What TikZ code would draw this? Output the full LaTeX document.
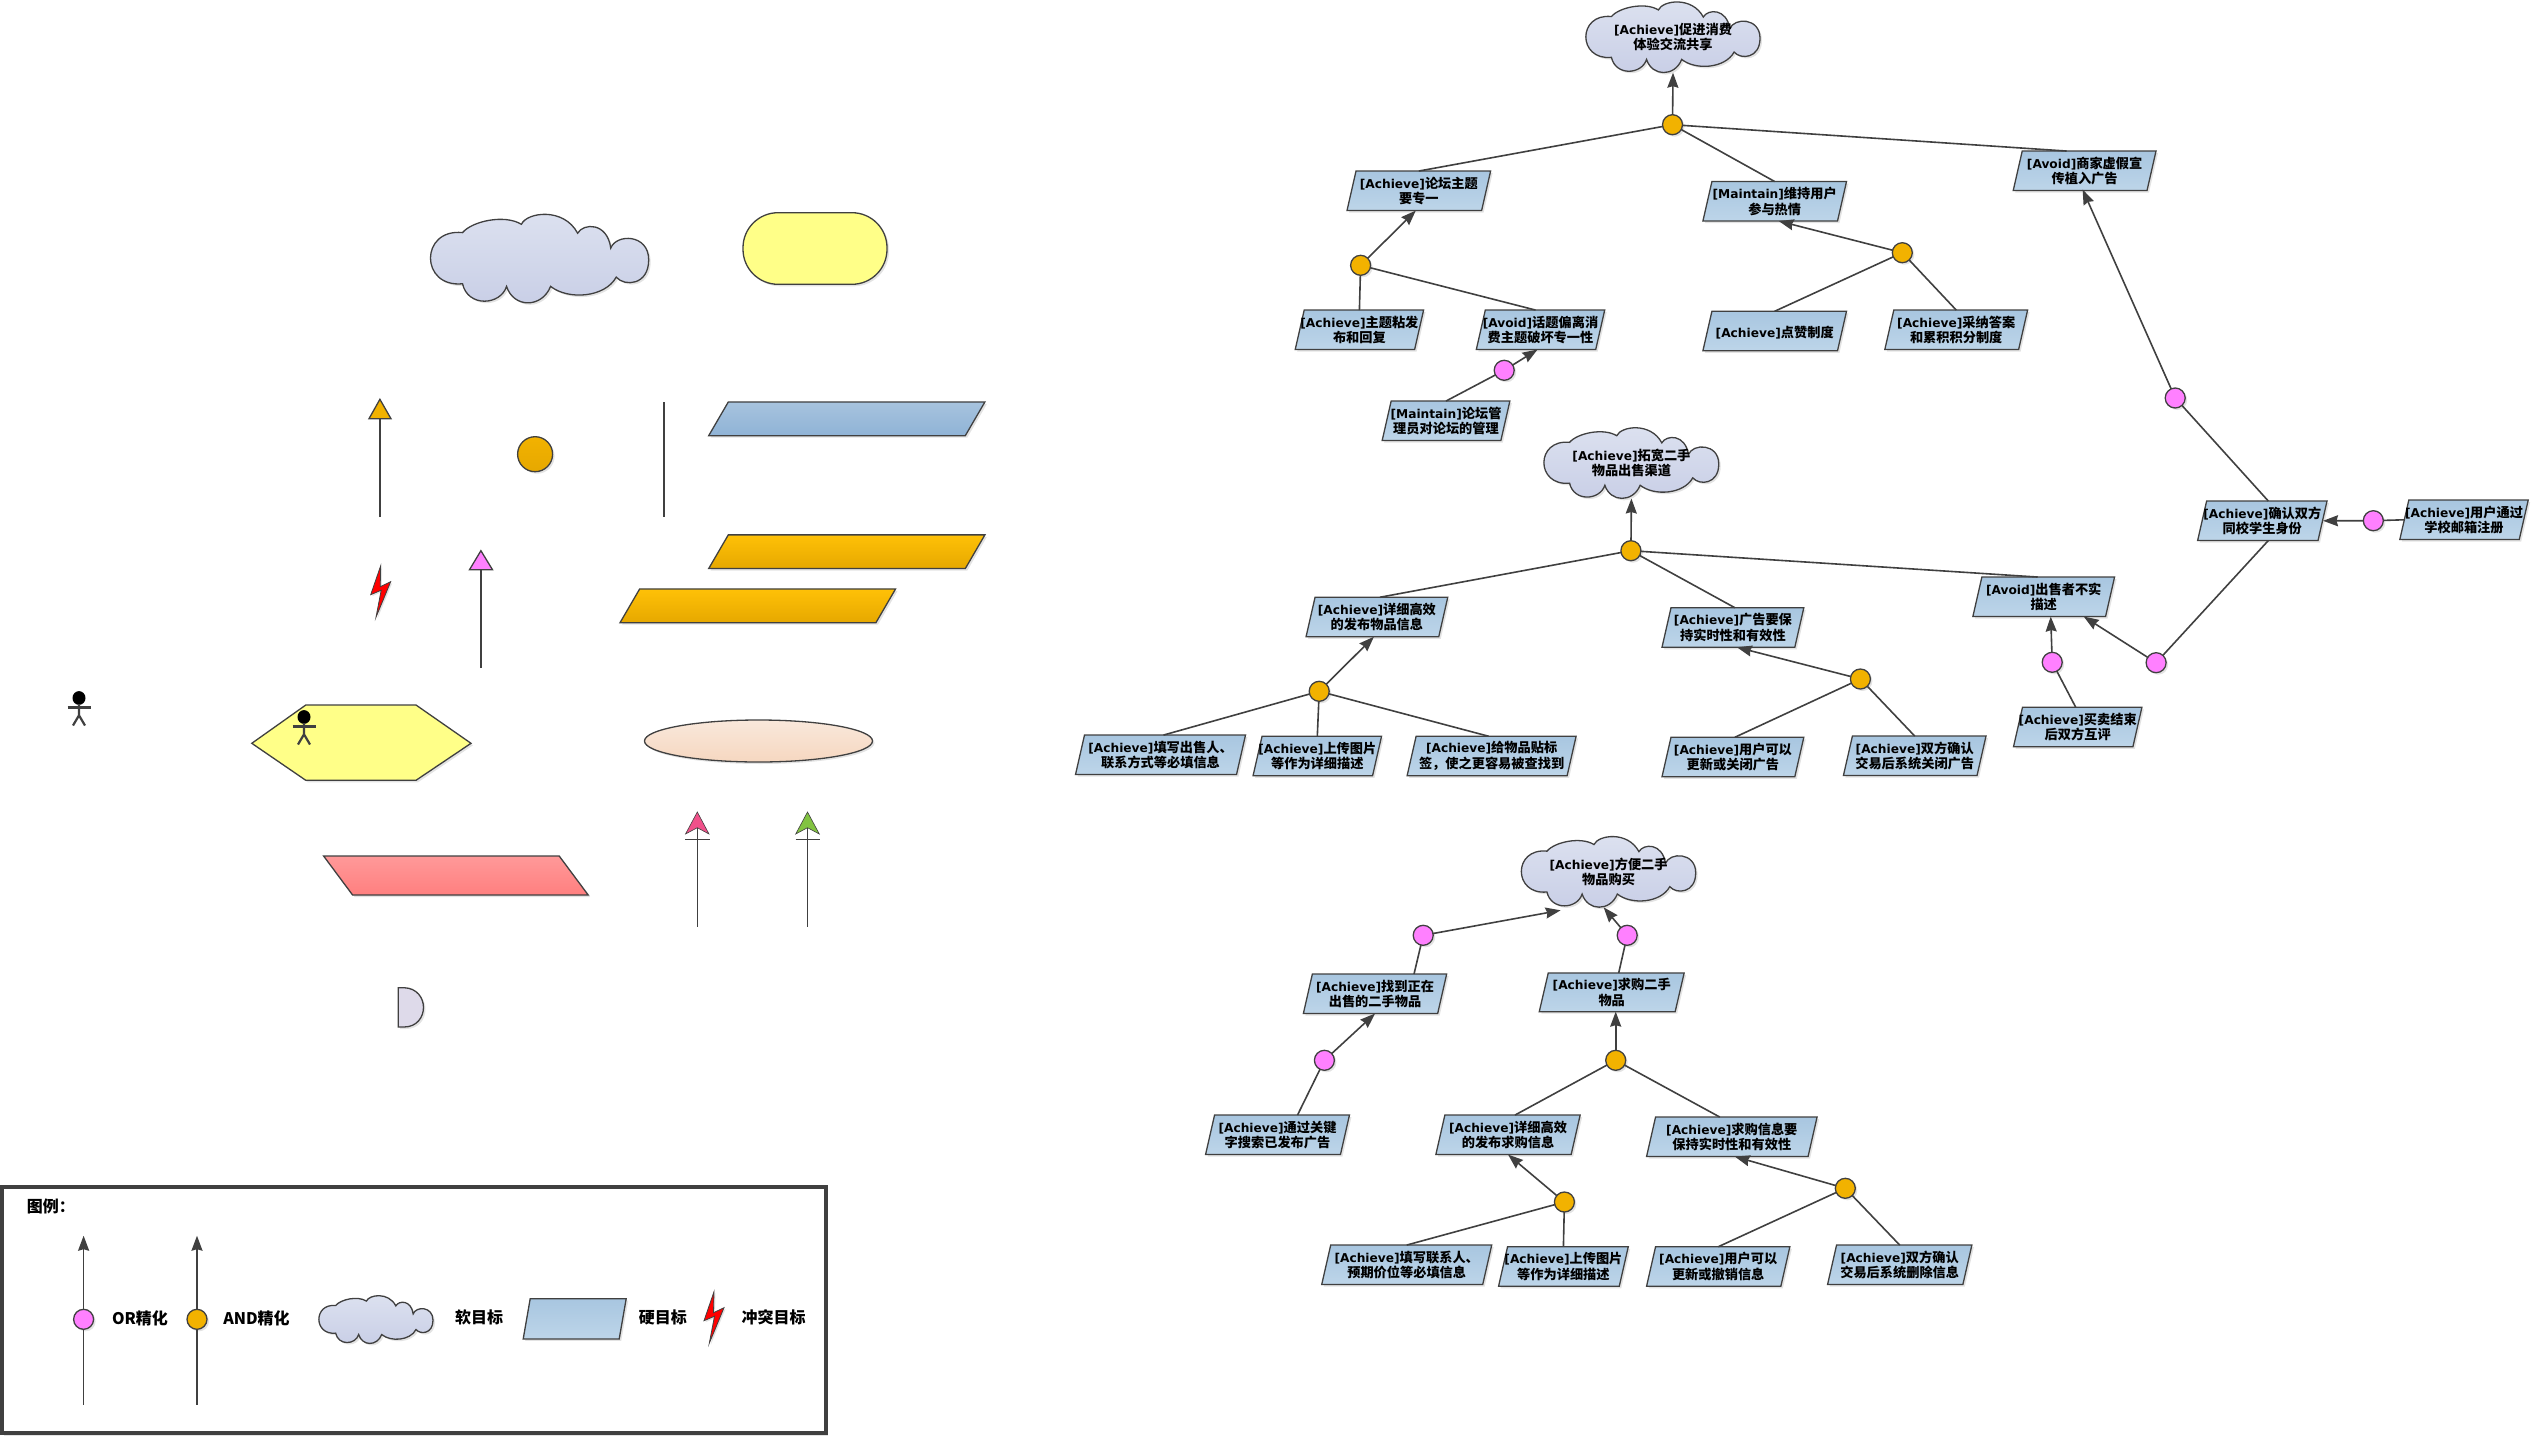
\documentclass[tikz,border=0pt]{standalone}
\usepackage{fontspec}
\setmainfont{Noto Sans CJK SC}
\newfontfamily\latf{DejaVu Sans}
\usetikzlibrary{arrows.meta,shadows,shapes.geometric}
\newcommand\glat[1]{{\latf\bfseries\fontsize{12.2}{15.5}\selectfont #1}}
\newcommand\ach{\glat{[Achieve]}}
\newcommand\mnt{\glat{[Maintain]}}
\newcommand\avd{\glat{[Avoid]}}
\definecolor{linec}{HTML}{404040}
\definecolor{blueT}{HTML}{A8C6E0}
\definecolor{blueB}{HTML}{BDD5E9}
\definecolor{palblueT}{HTML}{A7C3DE}
\definecolor{palblueB}{HTML}{8FB3D6}
\definecolor{cloudT}{HTML}{DDE2F0}
\definecolor{cloudB}{HTML}{C8CEE6}
\definecolor{goldc}{HTML}{F2B200}
\definecolor{goldT}{HTML}{FFC107}
\definecolor{goldB}{HTML}{E6A800}
\definecolor{pinkc}{HTML}{FF80FF}
\definecolor{yellowc}{HTML}{FFFF88}
\definecolor{peachT}{HTML}{F9E8DB}
\definecolor{peachB}{HTML}{F6D7C0}
\definecolor{redT}{HTML}{FF9999}
\definecolor{redB}{HTML}{FF7F7F}
\makeatletter
\newcommand\clsetup{%
  \southwest\edef\cltmpa{\the\pgf@x}\edef\cltmpb{\the\pgf@y}%
  \northeast\edef\cltmpc{\the\pgf@x}\edef\cltmpd{\the\pgf@y}%
  \pgfmathsetmacro\clx{\cltmpa}\pgfmathsetmacro\clyb{\cltmpb}%
  \pgfmathsetmacro\clxb{\cltmpc}\pgfmathsetmacro\cly{\cltmpd}%
  \pgfmathsetmacro\clw{\clxb-\clx}\pgfmathsetmacro\clh{\cly-\clyb}}
\newcommand\clp[2]{\pgfpoint{\clx+#1*\clw}{\cly-#2*\clh}}
\newcommand\clc[6]{\pgfpathcurveto{\clp{#1}{#2}}{\clp{#3}{#4}}{\clp{#5}{#6}}}
\newcommand\cloudpathdef{\clsetup
  \pgfpathmoveto{\clp{.146}{.209}}
  \clc{.19}{.08}{.34}{.0}{.416}{.116}
  \clc{.44}{-.02}{.61}{-.08}{.674}{.216}
  \clc{.70}{.10}{.81}{.09}{.826}{.384}
  \clc{.85}{.22}{1.0}{.22}{1.0}{.515}
  \clc{1.0}{.80}{.89}{.82}{.851}{.709}
  \clc{.80}{.94}{.63}{.97}{.55}{.813}
  \clc{.51}{1.06}{.38}{1.06}{.348}{.813}
  \clc{.32}{1.03}{.17}{1.05}{.146}{.784}
  \clc{-.05}{.83}{-.05}{.16}{.146}{.209}
  \pgfpathclose}
\newcommand\plgpathdef{\clsetup
  \pgfmathsetmacro\plga{max(\plgslant,0)}\pgfmathsetmacro\plgb{min(\plgslant,0)}%
  \pgfpathmoveto{\pgfpoint{\clx+\plga}{\cly}}
  \pgfpathlineto{\pgfpoint{\clxb+\plgb}{\cly}}
  \pgfpathlineto{\pgfpoint{\clxb-\plga}{\clyb}}
  \pgfpathlineto{\pgfpoint{\clx-\plgb}{\clyb}}
  \pgfpathclose}
\pgfdeclareshape{softcloud}{
  \inheritsavedanchors[from=rectangle]
  \inheritanchorborder[from=rectangle]
  \inheritanchor[from=rectangle]{center}
  \inheritanchor[from=rectangle]{north}
  \inheritanchor[from=rectangle]{south}
  \inheritanchor[from=rectangle]{east}
  \inheritanchor[from=rectangle]{west}
  \inheritanchor[from=rectangle]{text}
  \backgroundpath{\cloudpathdef}
}
\pgfdeclareshape{plgram}{
  \inheritsavedanchors[from=rectangle]
  \inheritanchorborder[from=rectangle]
  \inheritanchor[from=rectangle]{center}
  \inheritanchor[from=rectangle]{north}
  \inheritanchor[from=rectangle]{south}
  \inheritanchor[from=rectangle]{east}
  \inheritanchor[from=rectangle]{west}
  \inheritanchor[from=rectangle]{text}
  \backgroundpath{\plgpathdef}
}
\makeatother
\tikzset{
  plg slant/.store in=\plgslant, plg slant=9,
  softshadow/.style={drop shadow={shadow xshift=2pt,shadow yshift=-2pt,fill=black!18,opacity=.6}},
  outl/.style={draw=linec,line width=1.3pt},
  txt/.style={font=\bfseries\fontsize{13.2}{15.5}\selectfont,align=center,inner sep=0pt,outer sep=0pt,text=black,execute at begin node={\rule{0pt}{14.5pt}}},
  goal/.style={shape=plgram,outl,txt,softshadow,top color=blueT,bottom color=blueB,minimum height=39.5pt},
  palbox/.style={shape=plgram,outl,inner sep=0pt,outer sep=0pt,softshadow,minimum height=33.7pt,plg slant=19.6},
  softgoal/.style={shape=softcloud,outl,txt,softshadow,top color=cloudT,bottom color=cloudB,minimum width=174pt,minimum height=71pt},
  dot/.style={circle,outl,inner sep=0pt,outer sep=0pt,minimum size=20pt,softshadow},
  anddot/.style={dot,fill=goldc},
  ordot/.style={dot,fill=pinkc},
  conn/.style={draw=linec,line width=1.6pt},
  arr/.style={conn,-{Stealth[length=15pt,width=11pt,inset=1.5pt]}},
  thin line/.style={draw=linec,line width=1.2pt},
  legendtxt/.style={font=\bfseries\fontsize{16}{18}\selectfont,inner sep=0pt,outer sep=0pt,text=black},
  bolt/.pic={\path[draw=linec,line width=.8pt,fill=red,drop shadow={shadow xshift=1.5pt,shadow yshift=-1.5pt,fill=black!18,opacity=.6}]
     (10,0) -- (0,29) -- (10.5,24.5) -- (5.3,51.5) -- (20,16) -- (9.5,21) -- cycle;},
  actor/.pic={\fill[black] (0,7) ellipse (6.5 and 6.9);
     \draw[linec,line width=2.2pt] (0,13) -- (0,24.3) (0,24.3) -- (-6,34.5) (0,24.3) -- (6,34.5);
     \draw[linec,line width=2.8pt] (-11.5,16.5) -- (11.5,16.5);},
}
\begin{document}
\begin{tikzpicture}[x=1pt,y=-1pt]
\useasboundingbox (0,0) rectangle (2531,1437);
% ---------- palette ----------
\node[softgoal,minimum width=218pt,minimum height=89pt] (palcloud) at (539.7,258.5) {};
\node[outl,fill=yellowc,rounded corners=35pt,minimum width=144pt,minimum height=71.6pt,inner sep=0pt,outer sep=0pt,softshadow] (palobst) at (815,248.5) {};
\node[anddot,minimum size=35pt,top color=goldc,bottom color=goldB] (palgold) at (535.1,454.2) {};
\node[palbox,minimum width=276.2pt,top color=palblueT,bottom color=palblueB] (palblue) at (846.8,418.8) {};
\node[palbox,minimum width=276.2pt,top color=goldT,bottom color=goldB] (palor1) at (846.8,551.7) {};
\node[palbox,minimum width=275.5pt,top color=goldT,bottom color=goldB] (palor2) at (757.8,605.8) {};
\node[palbox,plg slant=-29,minimum width=264.6pt,minimum height=39pt,top color=redT,bottom color=redB] (palred) at (455.9,875.5) {};
\node[ellipse,outl,minimum width=228pt,minimum height=42pt,inner sep=0pt,outer sep=0pt,top color=peachT,bottom color=peachB,softshadow] (palell) at (758.5,741) {};
% plain arrows of the palette
\draw[thin line] (379.9,517) -- (379.9,418.7);
\draw[outl,fill=goldc] (369,418.7) -- (379.9,399.3) -- (391,418.7) -- cycle;
\draw[thin line] (664,402) -- (664,517);
\draw[thin line] (480.9,668) -- (480.9,569.7);
\draw[outl,fill=pinkc] (469.5,569.7) -- (480.9,550.7) -- (492.5,569.7) -- cycle;
\draw[thin line] (697.3,926.7) -- (697.3,827.7);
\draw[thin line] (685,839.3) -- (709.6,839.3);
\draw[draw=linec,line width=.6pt,fill={rgb,255:red,240;green,80;blue,138}] (685.5,834) -- (697.3,812) -- (709,834) -- (697.3,827.7) -- cycle;
\draw[thin line] (807.5,926.7) -- (807.5,827.7);
\draw[thin line] (795.5,839.3) -- (819.8,839.3);
\draw[draw=linec,line width=.6pt,fill={rgb,255:red,130;green,195;blue,65}] (795.7,834) -- (807.5,812) -- (819.3,834) -- (807.5,827.7) -- cycle;
% hexagon, half disc
\draw[outl,fill=yellowc,softshadow] (251.8,743.3) -- (305.8,705) -- (416,705) -- (471,743.3) -- (416,780.3) -- (305.8,780.3) -- cycle;
\draw[outl,fill={rgb,255:red,222;green,218;blue,234},softshadow] (398.2,987.7) -- (404,987.7) .. controls (417,988) and (423.5,998) .. (423.5,1007.4) .. controls (423.5,1017) and (417,1027) .. (404,1027) -- (398.2,1027) -- cycle;
\pic at (79,691) {actor};
\pic at (304,710) {actor};
\pic at (370.7,565.7) {bolt};
% ---------- tree 1 ----------
\node[softgoal] (c1) at (1673,37.2) {\ach 促进消费\\体验交流共享};
\node[anddot] (n1) at (1672.5,124.7) {};
\node[goal,minimum width=143.6pt] (a1) at (1418.8,190.8) {\ach 论坛主题\\要专一};
\node[goal,minimum width=143.6pt] (a2) at (1774.7,201.3) {\mnt 维持用户\\参与热情};
\node[goal,minimum width=142.8pt] (a3) at (2084.6,170.8) {\avd 商家虚假宣\\传植入广告};
\node[anddot] (n2) at (1360.6,265.3) {};
\node[anddot] (n3) at (1902.3,252.7) {};
\node[goal,minimum width=128.4pt] (b1) at (1359.4,329.8) {\ach 主题粘发\\布和回复};
\node[goal,minimum width=128.4pt] (b2) at (1540.5,329.8) {\avd 话题偏离消\\费主题破坏专一性};
\node[goal,minimum width=143.6pt] (b3) at (1774.7,331) {\ach 点赞制度};
\node[goal,minimum width=142.8pt] (b4) at (1956.2,329.8) {\ach 采纳答案\\和累积积分制度};
\node[goal,minimum width=127.7pt] (b5) at (1446,420.8) {\mnt 论坛管\\理员对论坛的管理};
\node[ordot] (p1) at (1504.2,370.3) {};
\node[ordot] (p2) at (2175.2,398) {};
\draw[arr] (n1) -- (c1.south);
\draw[conn] (a1.north) -- (n1);
\draw[conn] (a2.north) -- (n1);
\draw[conn] ([xshift=-18pt]a3.north) -- (n1);
\draw[arr] (n2) -- ([xshift=-3pt]a1.south);
\draw[conn] (b1.north) -- (n2);
\draw[conn] ([xshift=-5pt]b2.north) -- (n2);
\draw[arr] (n3) -- ([xshift=4pt]a2.south);
\draw[conn] (b3.north) -- (n3);
\draw[conn] (b4.north) -- (n3);
\draw[conn] (b5.north) -- (p1);
\draw[arr] (p1) -- ([xshift=-3pt]b2.south);
\draw[arr] (p2) -- ([xshift=-2pt,yshift=1pt]a3.south);
% ---------- tree 2 ----------
\node[softgoal,minimum width=174.7pt] (c2) at (1631.4,463) {\ach 拓宽二手\\物品出售渠道};
\node[anddot] (n4) at (1630.9,550.7) {};
\node[goal,minimum width=141.7pt] (d1) at (1376.9,617) {\ach 详细高效\\的发布物品信息};
\node[goal,minimum width=141.8pt] (d2) at (1732.9,627.5) {\ach 广告要保\\持实时性和有效性};
\node[goal,minimum width=141.7pt] (d3) at (2043.7,596.8) {\avd 出售者不实\\描述};
\node[anddot] (n5) at (1319.2,691.3) {};
\node[anddot] (n6) at (1860.4,679) {};
\node[ordot] (p3) at (2052.2,662.3) {};
\node[ordot] (p4) at (2156.1,662.7) {};
\node[goal,minimum width=170pt] (e1) at (1160.5,754.8) {\ach 填写出售人、\\联系方式等必填信息};
\node[goal,minimum width=128.5pt] (e2) at (1317.3,756) {\ach 上传图片\\等作为详细描述};
\node[goal,minimum width=169pt] (e3) at (1491.6,756) {\ach 给物品贴标\\签，使之更容易被查找到};
\node[goal,minimum width=141.8pt] (e4) at (1732.9,757) {\ach 用户可以\\更新或关闭广告};
\node[goal,minimum width=142.6pt] (e5) at (1914.7,755.8) {\ach 双方确认\\交易后系统关闭广告};
\node[goal,minimum width=128.4pt] (e6) at (2077.7,727) {\ach 买卖结束\\后双方互评};
\node[goal,minimum width=129.4pt] (f1) at (2262.3,520.8) {\ach 确认双方\\同校学生身份};
\node[goal,minimum width=128.4pt] (f2) at (2464,519.8) {\ach 用户通过\\学校邮箱注册};
\node[ordot] (p5) at (2373.3,520.7) {};
\draw[arr] (n4) -- (c2.south);
\draw[conn] ([xshift=3pt]d1.north) -- (n4);
\draw[conn] ([xshift=2pt]d2.north) -- (n4);
\draw[conn] ([xshift=-6pt]d3.north) -- (n4);
\draw[arr] (n5) -- ([xshift=-3pt]d1.south);
\draw[conn] ([xshift=3pt]e1.north) -- (n5);
\draw[conn] (e2.north) -- (n5);
\draw[conn] ([xshift=-3pt]e3.north) -- (n5);
\draw[arr] (n6) -- ([xshift=4pt]d2.south);
\draw[conn] ([xshift=2pt]e4.north) -- (n6);
\draw[conn] (e5.north) -- (n6);
\draw[conn] ([xshift=-2pt]e6.north) -- (p3);
\draw[arr] (p3) -- ([xshift=7pt]d3.south);
\draw[arr] (p4) -- ([xshift=40pt]d3.south);
\draw[conn] (p4) -- ([xshift=6pt]f1.south);
\draw[conn] ([xshift=6pt]f1.north) -- (p2);
\draw[conn] ([xshift=4pt]f2.west) -- (p5);
\draw[arr] (p5) -- ([xshift=-4pt]f1.east);
% ---------- tree 3 ----------
\node[softgoal,minimum width=174.2pt] (c3) at (1608.6,871.8) {\ach 方便二手\\物品购买};
\node[ordot] (p6) at (1423.2,935.3) {};
\node[ordot] (p7) at (1627.2,935.3) {};
\node[goal,minimum width=143.3pt] (g1) at (1375,993.8) {\ach 找到正在\\出售的二手物品};
\node[goal,minimum width=144.9pt,minimum height=38.7pt] (g2) at (1611.7,992.3) {\ach 求购二手\\物品};
\node[ordot] (p8) at (1324.4,1060.3) {};
\node[anddot] (n7) at (1615.7,1060.3) {};
\node[goal,minimum width=143.9pt] (h1) at (1277.5,1134.8) {\ach 通过关键\\字搜索已发布广告};
\node[goal,minimum width=144.3pt] (h2) at (1508,1134.8) {\ach 详细高效\\的发布求购信息};
\node[goal,minimum width=170.5pt] (h3) at (1731.8,1136.8) {\ach 求购信息要\\保持实时性和有效性};
\node[anddot] (n8) at (1564.4,1202) {};
\node[anddot] (n9) at (1845.3,1188.3) {};
\node[goal,minimum width=170pt] (i1) at (1406.7,1264.8) {\ach 填写联系人、\\预期价位等必填信息};
\node[goal,minimum width=129.7pt] (i2) at (1563.4,1266.5) {\ach 上传图片\\等作为详细描述};
\node[goal,minimum width=143.3pt] (i3) at (1718.2,1266.5) {\ach 用户可以\\更新或撤销信息};
\node[goal,minimum width=144.3pt] (i4) at (1899.7,1264.8) {\ach 双方确认\\交易后系统删除信息};
\draw[arr] (p6) -- ([xshift=-48pt,yshift=-3pt]c3.south);
\draw[arr] (p7) -- ([xshift=-5pt]c3.south);
\draw[conn] ([xshift=39pt]g1.north) -- (p6);
\draw[conn] ([xshift=7pt]g2.north) -- (p7);
\draw[conn] ([xshift=20pt]h1.north) -- (p8);
\draw[arr] (p8) -- (g1.south);
\draw[arr] (n7) -- ([xshift=4pt]g2.south);
\draw[conn] ([xshift=7pt]h2.north) -- (n7);
\draw[conn] ([xshift=-12pt]h3.north) -- (n7);
\draw[arr] (n8) -- (h2.south);
\draw[arr] (n9) -- ([xshift=3pt]h3.south);
\draw[conn] (i1.north) -- (n8);
\draw[conn] (i2.north) -- (n8);
\draw[conn] (i3.north) -- (n9);
\draw[conn] (i4.north) -- (n9);
% ---------- legend ----------
\node[draw=linec,line width=4pt,fill=white,inner sep=0pt,outer sep=0pt,minimum width=824pt,minimum height=246pt,drop shadow={shadow xshift=2pt,shadow yshift=-3pt,fill=black!18,opacity=.6}] (frame) at (413.8,1309.7) {};
\node[legendtxt,anchor=west] (ltitle) at (27,1206) {图例：};
\coordinate (l1t) at (83.6,1235.7);
\coordinate (l1b) at (83.6,1405);
\coordinate (l2t) at (197,1235.7);
\coordinate (l2b) at (197,1405);
\node[ordot] (l1c) at (83.6,1319.3) {};
\node[anddot] (l2c) at (197,1319.3) {};
\draw[arr] (l1c) -- (l1t);
\draw[conn] (l1c) -- (l1b);
\draw[arr] (l2c) -- (l2t);
\draw[conn] (l2c) -- (l2b);
\node[legendtxt] (lor) at (140,1318) {OR精化};
\node[legendtxt] (land) at (256.5,1318) {AND精化};
\node[softgoal,minimum width=114pt,minimum height=48pt] (lcloud) at (376,1319.5) {};
\node[legendtxt] (lsoft) at (479,1317) {软目标};
\node[goal,minimum width=103pt,minimum height=40.3pt,plg slant=7] (lbox) at (574.7,1318.8) {};
\node[legendtxt] (lhard) at (662.8,1317) {硬目标};
\pic at (704,1291.7) {bolt};
\node[legendtxt] (lconf) at (773.6,1317) {冲突目标};
\end{tikzpicture}
\end{document}
